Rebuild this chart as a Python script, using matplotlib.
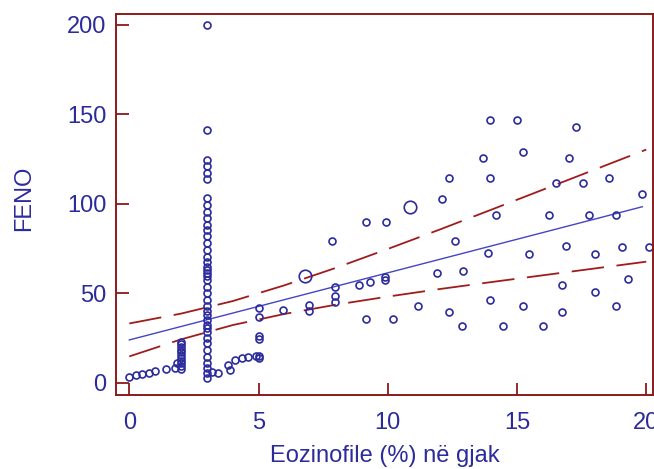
import numpy as np
import matplotlib.pyplot as plt

plt.rcParams['font.family'] = ['Liberation Sans', 'DejaVu Sans']

# Eozinofile (%) vs FENO, low range (x <= 5)
eoz_low = [0, 0.25, 0.5, 0.75, 1.0, 1.4, 1.75, 1.83,
           2, 2, 2, 2, 2, 2, 2, 2, 2, 2, 2,
           3.2, 3.45, 3.82, 3.89, 4.08, 4.34, 4.6, 4.92,
           5, 5, 5, 5, 5, 5]
feno_low = [3.5, 4.5, 5.0, 5.5, 6.5, 7.5, 8.5, 11.0,
            8, 9.5, 11, 12.5, 14, 15.5, 17, 18.5, 20, 21.5, 23,
            6.0, 5.5, 10.0, 7.3, 12.8, 13.8, 14.7, 15.1,
            41.7, 37.0, 26.3, 24.5, 15.1, 14.0]

# all the patients with 3 % eosinophils
feno_at3 = [2.6, 5.4, 8.2, 11.0, 14.7, 18.4, 22.2, 25.0, 28.7, 30.5, 32.4,
            35.2, 38.0, 40.0, 42.7, 46.4, 50.1, 53.8, 57.6, 59.5, 61.3, 63.0,
            65.0, 67.8, 70.5, 74.3, 78.0, 81.8, 85.5, 88.3, 92.0, 95.7, 99.4,
            103.2, 113.7, 117.2, 120.9, 124.6, 141.3, 200.0]

# x > 5
eoz_high = [5.95, 6.96, 6.96, 7.85, 7.95, 7.95, 7.95, 8.9, 9.3, 9.91, 9.91,
            9.15, 9.95, 9.15, 10.2, 11.18, 11.89, 12.1, 12.36, 12.36, 12.6,
            12.88, 12.92, 13.67, 13.89, 13.95, 13.95, 13.95, 14.2, 14.44,
            15.0, 15.22, 15.24, 15.47, 16.0, 16.23, 16.5, 16.76, 16.76, 16.88,
            17.0, 17.28, 17.56, 17.78, 18.0, 18.0, 18.57, 18.82, 18.82, 19.05,
            19.3, 19.83, 20.1]
feno_high = [40.8, 43.6, 40.2, 79.5, 53.8, 48.6, 45.3, 54.7, 56.6, 59.2, 57.5,
             90.1, 90.1, 35.8, 35.8, 43.2, 61.3, 102.6, 114.7, 39.5, 79.5,
             32.0, 62.6, 125.5, 72.8, 146.9, 114.7, 46.4, 93.5, 32.0,
             146.9, 129.2, 43.0, 72.1, 32.0, 93.5, 111.6, 54.6, 39.5, 76.7,
             125.5, 143.2, 111.6, 93.5, 72.1, 50.8, 114.7, 93.5, 43.0, 75.8,
             57.9, 105.6, 75.8]

# repeated observations (bigger symbol)
eoz_rep = [6.8, 10.85]
feno_rep = [59.8, 98.3]

# regression line and 95% confidence band
fit_x = [0, 19.85]
fit_y = [24.0, 98.4]
band_x = [0, 2, 4, 6, 8, 10, 12, 14, 16, 18, 20]
band_hi = [33.2, 38.7, 45.7, 54.5, 64.3, 74.8, 85.6, 96.7, 107.9, 119.1, 130.3]
band_lo = [14.8, 24.3, 32.3, 38.5, 43.7, 48.2, 52.4, 56.3, 60.1, 63.9, 67.7]

x_ticks = [0, 5, 10, 15, 20]
y_ticks = [0, 50, 100, 150, 200]

navy = '#2b2b9c'
darkred = '#8b1a1a'

fig = plt.figure(figsize=(6.54, 4.69), dpi=100)
ax = fig.add_axes([0.178, 0.158, 0.820, 0.812])

ax.plot(fit_x, fit_y, color='#4444c4', linewidth=1.0)
ax.plot(band_x, band_hi, color='#a01c1c', linewidth=1.3, dashes=(18, 7))
ax.plot(band_x, band_lo, color='#a01c1c', linewidth=1.3, dashes=(18, 7))

mk = dict(linestyle='none', marker='o', markerfacecolor='none',
          markeredgecolor=navy, markeredgewidth=1.2)
ax.plot(eoz_low, feno_low, markersize=5, **mk)
ax.plot([3] * len(feno_at3), feno_at3, markersize=5, **mk)
ax.plot(eoz_high, feno_high, markersize=5, **mk)
ax.plot(eoz_rep, feno_rep, markersize=9, **mk)

ax.set_xlim(-0.5, 20.25)
ax.set_ylim(-6.7, 206)
ax.set_xticks(x_ticks)
ax.set_yticks(y_ticks)

for s in ax.spines.values():
    s.set_color(darkred)
    s.set_linewidth(1.4)
ax.tick_params(direction='in', length=9, width=1.3, color=darkred,
               labelcolor=navy, labelsize=17)
ax.tick_params(axis='x', pad=12)
ax.tick_params(axis='y', pad=7)

ax.set_xlabel('Eozinofile (%) në gjak', fontsize=17, color=navy)
ax.set_ylabel('FENO', fontsize=17, color=navy)
ax.xaxis.set_label_coords(0.5, -0.132)
ax.yaxis.set_label_coords(-0.152, 0.515)

fig.savefig('out.png', dpi=100)
